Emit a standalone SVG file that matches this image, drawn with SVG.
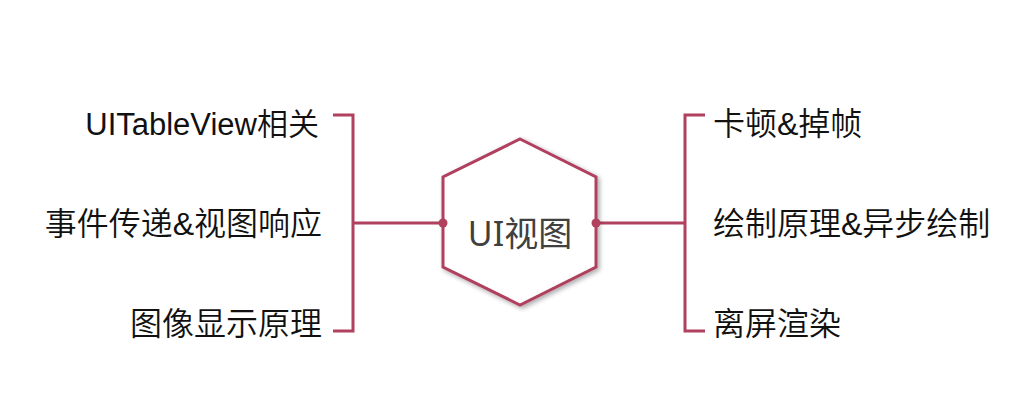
<svg xmlns="http://www.w3.org/2000/svg" width="1034" height="413" viewBox="0 0 1034 413">
<defs>
<filter id="sh" x="-20%" y="-20%" width="140%" height="140%">
<feGaussianBlur in="SourceAlpha" stdDeviation="2.5"/>
<feOffset dx="2" dy="2" result="b"/>
<feComponentTransfer><feFuncA type="linear" slope="0.35"/></feComponentTransfer>
<feMerge><feMergeNode/><feMergeNode in="SourceGraphic"/></feMerge>
</filter>
</defs>
<style>
.ln{fill:none;stroke:#B0415F;stroke-width:3;}
.dot{fill:#B0415F;}
.lbl{font-family:"Liberation Sans","Noto Sans CJK SC",sans-serif;font-size:32px;font-weight:350;fill:#111;}
.ctr{font-family:"Noto Sans","Noto Sans CJK SC",sans-serif;font-size:34px;font-weight:400;fill:#404040;}
</style>
<rect width="1034" height="413" fill="#fff"/>
<g id="connectors">
<path class="ln" d="M333,115 H353 V331 H333"/>
<path class="ln" d="M353,223 H443"/>
<path class="ln" d="M705,115 H685 V331 H705"/>
<path class="ln" d="M596,223 H685"/>
</g>
<g id="center">
<polygon class="ln" style="fill:#fff" filter="url(#sh)" points="520,139 596,177 596,267 520,305 443,267 443,177"/>
<circle class="dot" cx="443" cy="223" r="4.5"/>
<circle class="dot" cx="596" cy="223" r="4.5"/>
<text class="ctr" x="520" y="246" text-anchor="middle">UI视图</text>
</g>
<g id="n-tableview"><text class="lbl" x="319" y="135" text-anchor="end" style="font-size:31px">UITableView相关</text></g>
<g id="n-event"><text class="lbl" x="322" y="235" text-anchor="end">事件传递&amp;视图响应</text></g>
<g id="n-image"><text class="lbl" x="322" y="335" text-anchor="end">图像显示原理</text></g>
<g id="n-lag"><text class="lbl" x="713" y="135">卡顿&amp;掉帧</text></g>
<g id="n-draw"><text class="lbl" x="713" y="235">绘制原理&amp;异步绘制</text></g>
<g id="n-offscreen"><text class="lbl" x="713" y="335">离屏渲染</text></g>
</svg>
